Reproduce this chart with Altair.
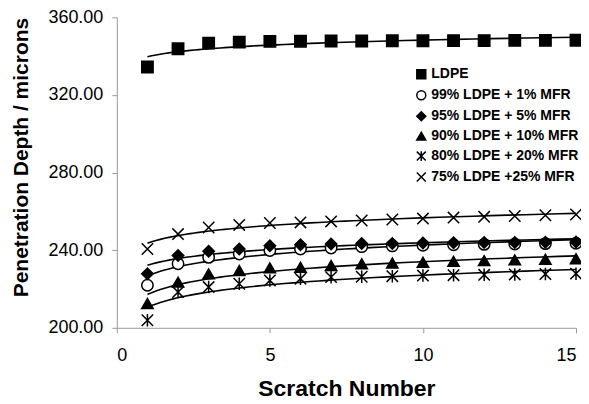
import altair as alt
import pandas as pd

scratch = list(range(1, 16))

series_names = [
    "LDPE",
    "99% LDPE + 1% MFR",
    "95% LDPE + 5% MFR",
    "90% LDPE + 10% MFR",
    "80% LDPE + 20% MFR",
    "75% LDPE +25% MFR",
]

ldpe = [334.4, 343.8, 346.7, 347.2, 347.6, 347.7, 347.8, 347.8, 347.9, 347.9, 348.0, 348.0, 348.1, 348.1, 348.2]
mfr1 = [221.9, 233.0, 236.3, 238.0, 239.8, 240.6, 241.1, 241.8, 242.2, 242.5, 242.8, 243.0, 243.2, 243.4, 243.6]
mfr5 = [227.8, 237.2, 239.4, 240.6, 242.3, 242.8, 243.2, 243.4, 243.5, 243.7, 243.8, 243.9, 244.0, 244.1, 244.2]
mfr10 = [212.5, 223.5, 227.8, 229.5, 230.9, 231.2, 232.1, 233.0, 233.4, 233.8, 234.2, 234.6, 235.0, 235.3, 235.6]
mfr20 = [203.9, 218.4, 221.0, 222.7, 224.4, 225.3, 226.1, 226.3, 226.6, 226.9, 227.1, 227.3, 227.5, 227.7, 227.9]
mfr25 = [240.6, 248.3, 251.7, 253.0, 254.0, 254.3, 254.8, 255.3, 255.8, 256.3, 256.8, 257.2, 257.6, 258.0, 258.4]

all_values = [ldpe, mfr1, mfr5, mfr10, mfr20, mfr25]

rows = []
for i, (name, vals) in enumerate(zip(series_names, all_values)):
    for x, y in zip(scratch, vals):
        rows.append({"series": name, "ord": i, "x": x, "y": y})
df = pd.DataFrame(rows)

x_path = "M-1,-1L1,1M-1,1L1,-1"
ast_path = "M-1,-1L1,1M-1,1L1,-1M0,-1.1L0,1.1"
shapes = ["square", "circle", "diamond", "triangle-up", ast_path, x_path]
fills = ["black", "white", "black", "black", "transparent", "transparent"]

FONT = "Liberation Sans"

xenc = alt.X("x:Q", scale=alt.Scale(domain=[0, 15], nice=False),
             axis=alt.Axis(title="Scratch Number", values=[0, 5, 10, 15], format="d",
                           labelFontSize=18, titleFontSize=23, labelPadding=14,
                           titlePadding=13, titleFontWeight="bold"))
yenc = alt.Y("y:Q", scale=alt.Scale(domain=[200, 360], nice=False, zero=False),
             axis=alt.Axis(title="Penetration Depth / microns", values=[200, 240, 280, 320, 360],
                           format=".2f", labelFontSize=18, titleFontSize=21, labelPadding=9,
                           titlePadding=16, titleFontWeight="bold", titleY=140))

lines = alt.Chart(df).transform_regression(
    "x", "y", method="log", groupby=["series"], extent=[1, 15]
).mark_line(color="black", strokeWidth=1.6).encode(
    x=xenc, y=yenc, detail="series:N"
)

leg = alt.Legend(title=None, orient="none", legendX=298, legendY=50,
                 labelFont=FONT, labelFontSize=14, labelFontWeight="bold", labelColor="black",
                 symbolSize=80, rowPadding=5, labelOffset=3, padding=0)

points = alt.Chart(df).mark_point(stroke="black", strokeWidth=1.5, opacity=1, size=130).encode(
    x=xenc,
    y=yenc,
    shape=alt.Shape("series:N", scale=alt.Scale(domain=series_names, range=shapes), legend=leg),
    fill=alt.Fill("series:N", scale=alt.Scale(domain=series_names, range=fills), legend=leg),
    order=alt.Order("ord:Q"),
)

chart = alt.layer(lines, points).properties(
    width=460, height=311,
    background="white",
    autosize=alt.AutoSizeParams(type="none"),
    padding={"left": 109, "top": 9, "right": 5, "bottom": 74},
).configure_view(stroke=None).configure_axis(
    grid=False, domainColor="#999999", tickColor="#999999", tickSize=5,
    labelColor="black", titleColor="black", labelFont=FONT, titleFont=FONT,
)

chart.save("out.html", embed_options={"renderer": "svg", "actions": False})
